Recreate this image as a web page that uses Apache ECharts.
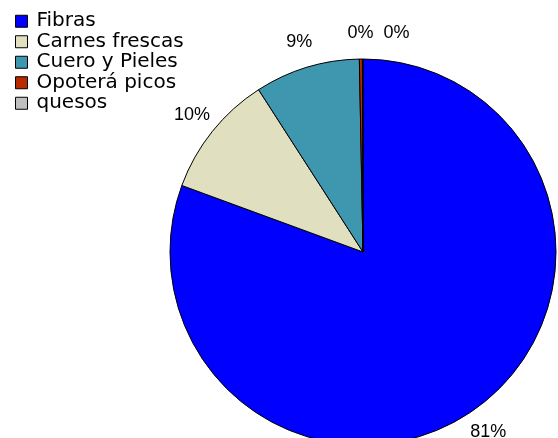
<!DOCTYPE html>
<html>
<head>
<meta charset="utf-8">
<script src="https://cdn.jsdelivr.net/npm/echarts@6/dist/echarts.min.js"></script>
<style>
html,body{margin:0;padding:0;background:#fff;}
#chart{width:558px;height:438px;}
</style>
</head>
<body>
<div id="chart"></div>
<script>
const categories = ['Fibras', 'Carnes frescas', 'Cuero y Pieles', 'Opoterá picos', 'quesos'];
const values = [80.6, 10.3, 8.8, 0.25, 0.05];
const colors = ['#0000FF', '#E0E0C0', '#3F97AF', '#B82A00', '#C0C0C0'];

let placed = [];
function layoutLabel(p) {
  if (p.dataIndex === 0) placed = [];
  const r = p.labelRect;
  let cx = p.align === 'right' ? r.x + r.width : (p.align === 'left' ? r.x : r.x + r.width / 2);
  const cy = r.y + r.height / 2;
  const w = r.width, h = r.height;
  for (const q of placed) {
    const overlap = Math.abs(cx - q.cx) < (w + q.w) / 2 && Math.abs(cy - q.cy) < (h + q.h) / 2;
    if (overlap) cx = q.cx + q.w / 2 + 10 + w / 2;
  }
  placed.push({cx: cx, cy: cy, w: w, h: h});
  return {x: cx, y: cy, align: 'center', verticalAlign: 'middle'};
}

const chart = echarts.init(document.getElementById('chart'), null, {renderer: 'canvas'});
chart.setOption({
  animation: false,
  backgroundColor: '#ffffff',
  color: colors,
  legend: {
    orient: 'vertical',
    left: 15,
    top: 11,
    padding: 0,
    itemGap: 0,
    itemWidth: 12,
    itemHeight: 12,
    icon: 'rect',
    selectedMode: false,
    itemStyle: {borderColor: '#000', borderWidth: 1},
    textStyle: {
      fontFamily: '"DejaVu Sans"',
      fontSize: 20,
      lineHeight: 20.5,
      color: '#000',
      padding: [0, 0, 0, 4]
    },
    data: categories
  },
  series: [{
    type: 'pie',
    center: [363, 252],
    radius: 193,
    startAngle: 90,
    clockwise: true,
    avoidLabelOverlap: false,
    percentPrecision: 0,
    itemStyle: {borderColor: '#000', borderWidth: 1},
    emphasis: {disabled: true},
    label: {
      show: true,
      position: 'outside',
      alignTo: 'none',
      distanceToLabelLine: 0,
      formatter: '{d}%',
      fontFamily: '"Liberation Sans", Arial, sans-serif',
      fontSize: 18,
      color: '#000'
    },
    labelLine: {show: false, length: 26, length2: 0},
    labelLayout: layoutLabel,
    data: categories.map((n, i) => ({name: n, value: values[i]}))
  }]
});
</script>
</body>
</html>
